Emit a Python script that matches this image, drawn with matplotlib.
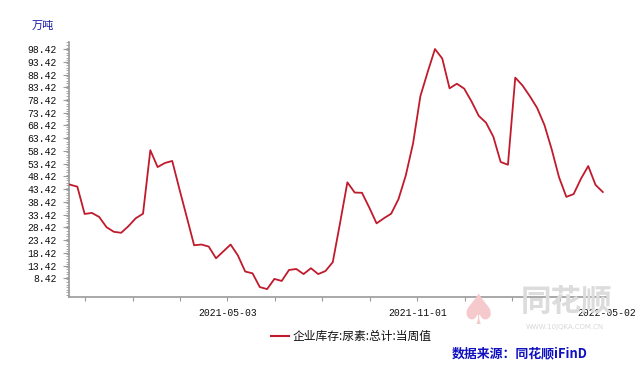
import numpy as np
import pandas as pd
import matplotlib
matplotlib.use("Agg")
import matplotlib.pyplot as plt
import matplotlib.dates as mdates
from matplotlib.ticker import FixedLocator, MultipleLocator

# weekly urea inventory (10k tonnes), Thursdays
start_date = "2020-12-03"
stock = [45.2, 44.4, 33.7, 34.1, 32.5, 28.5, 26.7, 26.3, 28.9, 32.0,
         33.8, 58.7, 52.1, 53.7, 54.5, 43.3, 32.4, 21.4, 21.7, 20.9,
         16.3, 19.0, 21.7, 17.4, 11.1, 10.4, 5.0, 4.2, 8.2, 7.4,
         11.7, 12.1, 10.1, 12.4, 10.1, 11.3, 14.8, 30.2, 46.1,
         42.1, 42.0, 36.2, 30.0, 32.0, 33.8, 39.5, 48.8, 61.4, 79.9,
         89.4, 98.42, 94.7, 83.0, 84.8, 82.9, 77.9, 72.2, 69.5, 64.0,
         54.1, 53.0, 87.2, 84.1, 79.9, 75.3, 68.6, 59.0, 48.1, 40.4,
         41.5, 47.5, 52.5, 45.1, 42.3]
dates = pd.date_range(start_date, periods=len(stock), freq="7D")

x_major = ["2021-05-03", "2021-11-01", "2022-05-02"]
y_ticks = [8.42 + 5 * k for k in range(19)]
series_name = "企业库存:尿素:总计:当周值"
unit = "万吨"
source = "数据来源：同花顺iFinD"

cjk = ["Noto Sans CJK SC", "DejaVu Sans"]
mono = "Liberation Mono"
axis_grey = "#9a9a9a"

fig = plt.figure(figsize=(6.4, 3.71), dpi=100)
ax = fig.add_axes([69 / 640, 1 - 296.5 / 371, 538 / 640, 254.8 / 371])

ax.plot(dates, stock, color="#c01a2c", lw=1.3, zorder=3)

ax.set_xlim(pd.Timestamp("2020-12-02"), pd.Timestamp("2022-05-02"))
ax.set_ylim(1.3, 101.3)

major_dt = pd.to_datetime(x_major)
ax.xaxis.set_major_locator(FixedLocator(mdates.date2num(major_dt)))
ax.xaxis.set_major_formatter(mdates.DateFormatter("%Y-%m-%d"))
step = (major_dt[1] - major_dt[0]) / 4
minor = [major_dt[0] + k * step for k in range(-3, 9)]
ax.xaxis.set_minor_locator(FixedLocator(mdates.date2num(pd.DatetimeIndex(minor))))

ax.yaxis.set_major_locator(FixedLocator(y_ticks))
ax.yaxis.set_major_formatter(lambda v, p: f"{v:.2f}")
ax.yaxis.set_minor_locator(MultipleLocator(1))

for s in ["top", "right"]:
    ax.spines[s].set_visible(False)
for s in ["left", "bottom"]:
    ax.spines[s].set_color(axis_grey)
    ax.spines[s].set_linewidth(1.2)

ax.tick_params(axis="both", which="both", colors=axis_grey, direction="out")
ax.tick_params(axis="y", which="major", length=4, width=0.8, pad=5)
ax.tick_params(axis="y", which="minor", length=2, width=0.6)
ax.tick_params(axis="x", which="both", length=3, width=0.8, pad=5)
for lab in ax.get_xticklabels() + ax.get_yticklabels():
    lab.set_fontfamily(mono)
    lab.set_fontsize(7)
    lab.set_color("#111111")

# watermark
fig.text(478 / 640, 1 - 312 / 371, "♠", color="#f6c9cc", fontsize=30,
         ha="center", va="center", zorder=0)
fig.text(566 / 640, 1 - 302 / 371, "同花顺", family=cjk, color="#dcdcdc",
         fontsize=22, fontweight="bold", style="italic", ha="center", va="center", zorder=0)
fig.text(565 / 640, 1 - 327 / 371, "WWW.10JQKA.COM.CN", color="#d8d8d8",
         fontsize=5, ha="center", va="center", zorder=0)

fig.text(32 / 640, 1 - 26 / 371, unit, family=cjk, color="#1a1aa8",
         fontsize=8, ha="left", va="center")

# legend
fig.add_artist(plt.Line2D([271 / 640, 289 / 640], [1 - 336 / 371] * 2,
                          color="#c01a2c", lw=1.5))
fig.text(293 / 640, 1 - 336 / 371, series_name, family=cjk, color="#111111",
         fontsize=8.5, ha="left", va="center")

fig.text(452 / 640, 1 - 353 / 371, source, family=cjk, color="#1010c0",
         fontsize=9.3, fontweight="bold", ha="left", va="center")

fig.savefig("out.png", dpi=100)
